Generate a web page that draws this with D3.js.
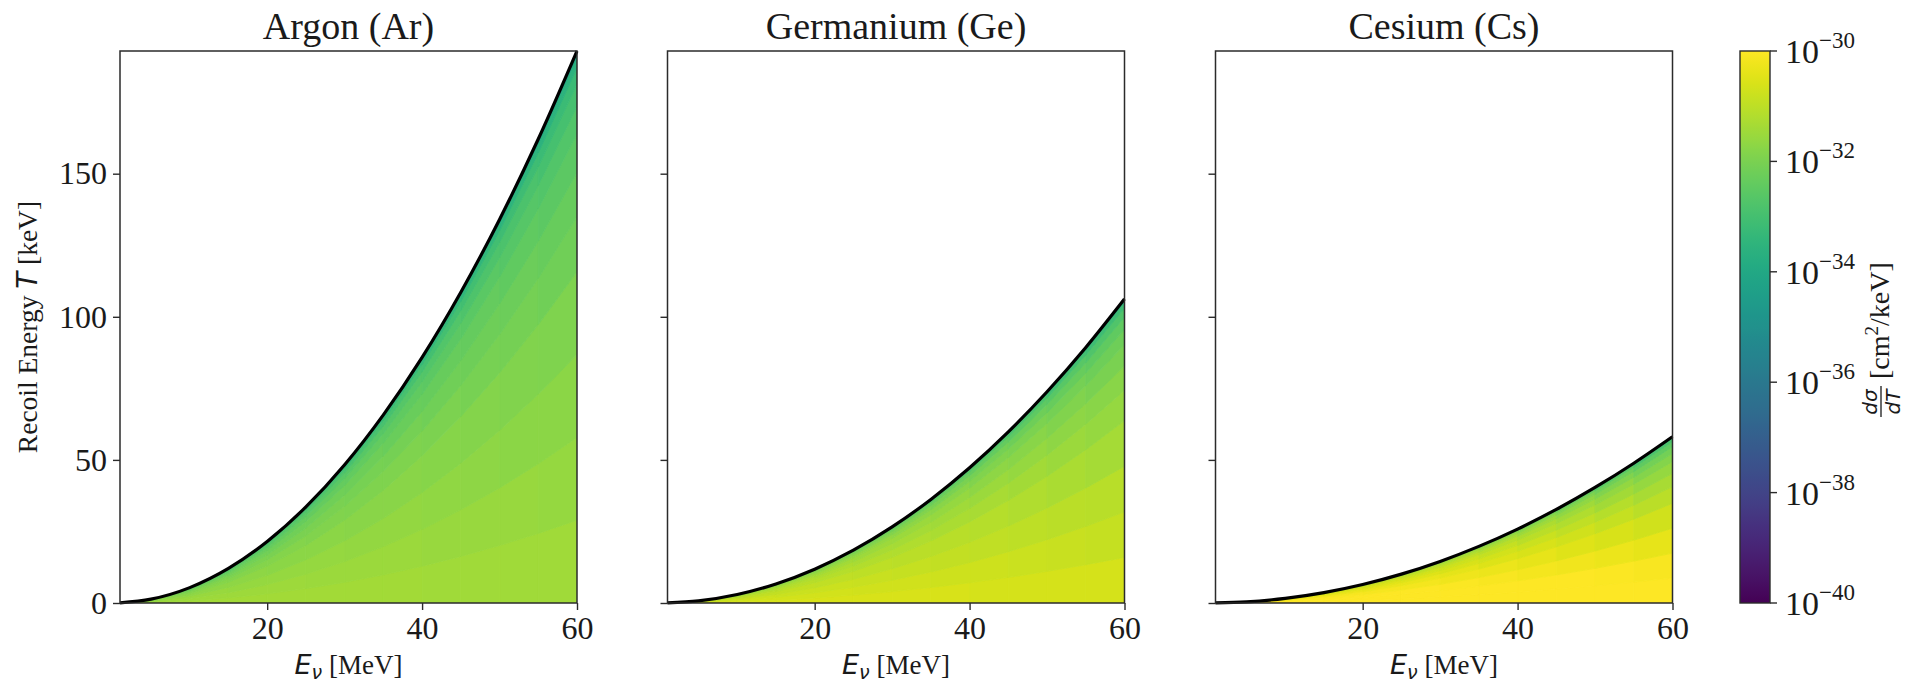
<!DOCTYPE html>
<html><head><meta charset="utf-8">
<script src="https://cdn.jsdelivr.net/npm/d3@7"></script>
<style>body{margin:0;background:#fff;} svg{display:block}</style>
</head><body><svg id="c" width="1931" height="689"></svg>
<script>
// ---------------- DATA ----------------
const panelTitles = ["Argon (Ar)", "Germanium (Ge)", "Cesium (Cs)"];
// kinematic boundary (max recoil energy, keV) read along E_nu (MeV)
const curveE = [1, 5, 10, 15, 20, 25, 30, 35, 40, 45, 50, 55, 60];
const tmaxAr = [0.05, 1.34, 5.37, 12.08, 21.48, 33.55, 48.29, 65.72, 85.81, 108.58, 134.01, 162.11, 192.87];
const tmaxGe = [0.03, 0.74, 2.96, 6.65, 11.82, 18.46, 26.58, 36.18, 47.24, 59.78, 73.80, 89.28, 106.23];
const tmaxCs = [0.02, 0.40, 1.62, 3.63, 6.46, 10.09, 14.53, 19.78, 25.83, 32.69, 40.36, 48.83, 58.10];
// heat-map cells: columns in E_nu (edges), rows as fraction of the boundary T/Tmax (edges)
const cellEdgesE = [1, 5, 10, 15, 20, 25, 30, 35, 40, 45, 50, 55, 60];
const cellEdgesF = [0, 0.15, 0.3, 0.45, 0.6, 0.7, 0.78, 0.85, 0.9, 0.94, 0.97, 0.99, 1.0];
// log10(dσ/dT [cm²/keV]) per column (rows bottom -> top)
const logAr = [
  [-31.38,-31.46,-31.55,-31.67,-31.81,-31.94,-32.08,-32.25,-32.45,-32.70,-33.05,-33.65],
  [-31.39,-31.46,-31.56,-31.68,-31.81,-31.94,-32.09,-32.26,-32.46,-32.71,-33.06,-33.66],
  [-31.39,-31.47,-31.56,-31.69,-31.82,-31.95,-32.10,-32.28,-32.47,-32.72,-33.07,-33.68],
  [-31.39,-31.47,-31.57,-31.70,-31.84,-31.97,-32.12,-32.30,-32.49,-32.74,-33.10,-33.70],
  [-31.39,-31.48,-31.58,-31.72,-31.86,-32.00,-32.15,-32.32,-32.52,-32.77,-33.13,-33.73],
  [-31.39,-31.49,-31.60,-31.74,-31.89,-32.03,-32.18,-32.36,-32.56,-32.81,-33.17,-33.77],
  [-31.40,-31.50,-31.62,-31.76,-31.92,-32.06,-32.22,-32.40,-32.60,-32.86,-33.22,-33.82],
  [-31.40,-31.51,-31.64,-31.79,-31.95,-32.10,-32.27,-32.45,-32.65,-32.91,-33.27,-33.88],
  [-31.41,-31.53,-31.66,-31.83,-31.99,-32.15,-32.32,-32.51,-32.71,-32.97,-33.33,-33.94],
  [-31.41,-31.54,-31.69,-31.86,-32.04,-32.20,-32.38,-32.57,-32.78,-33.04,-33.40,-34.01],
  [-31.42,-31.56,-31.72,-31.91,-32.09,-32.26,-32.44,-32.64,-32.85,-33.12,-33.48,-34.09],
  [-31.42,-31.58,-31.75,-31.95,-32.15,-32.33,-32.52,-32.72,-32.94,-33.20,-33.57,-34.18]
];
const logGe = [
  [-30.59,-30.67,-30.76,-30.88,-31.02,-31.15,-31.30,-31.47,-31.66,-31.91,-32.26,-32.86],
  [-30.60,-30.67,-30.77,-30.89,-31.03,-31.16,-31.31,-31.48,-31.67,-31.92,-32.27,-32.88],
  [-30.60,-30.68,-30.78,-30.90,-31.04,-31.18,-31.33,-31.50,-31.69,-31.95,-32.30,-32.90],
  [-30.60,-30.69,-30.79,-30.93,-31.07,-31.20,-31.36,-31.53,-31.73,-31.98,-32.34,-32.94],
  [-30.60,-30.70,-30.81,-30.95,-31.10,-31.24,-31.40,-31.58,-31.78,-32.03,-32.39,-32.99],
  [-30.61,-30.72,-30.84,-30.99,-31.15,-31.29,-31.46,-31.64,-31.84,-32.10,-32.45,-33.06],
  [-30.61,-30.73,-30.87,-31.03,-31.20,-31.35,-31.52,-31.71,-31.91,-32.17,-32.53,-33.14],
  [-30.62,-30.75,-30.90,-31.08,-31.26,-31.42,-31.59,-31.79,-32.00,-32.26,-32.62,-33.23],
  [-30.63,-30.78,-30.94,-31.13,-31.32,-31.50,-31.68,-31.88,-32.09,-32.36,-32.72,-33.33],
  [-30.64,-30.80,-30.99,-31.19,-31.40,-31.58,-31.78,-31.98,-32.20,-32.47,-32.84,-33.45],
  [-30.65,-30.83,-31.04,-31.26,-31.49,-31.68,-31.88,-32.10,-32.32,-32.60,-32.97,-33.58],
  [-30.66,-30.87,-31.09,-31.34,-31.58,-31.79,-32.00,-32.22,-32.46,-32.74,-33.11,-33.72]
];
const logCs = [
  [-29.75,-29.83,-29.93,-30.04,-30.18,-30.31,-30.46,-30.63,-30.82,-31.07,-31.42,-32.02],
  [-29.76,-29.84,-29.93,-30.05,-30.19,-30.32,-30.47,-30.64,-30.83,-31.09,-31.44,-32.04],
  [-29.76,-29.84,-29.94,-30.07,-30.21,-30.34,-30.50,-30.67,-30.87,-31.12,-31.47,-32.07],
  [-29.76,-29.85,-29.96,-30.10,-30.24,-30.38,-30.54,-30.72,-30.91,-31.17,-31.52,-32.13],
  [-29.77,-29.87,-29.99,-30.14,-30.29,-30.44,-30.60,-30.78,-30.98,-31.24,-31.59,-32.20],
  [-29.77,-29.89,-30.02,-30.18,-30.35,-30.50,-30.67,-30.86,-31.07,-31.33,-31.69,-32.29],
  [-29.78,-29.91,-30.06,-30.24,-30.42,-30.59,-30.77,-30.96,-31.18,-31.44,-31.80,-32.41],
  [-29.79,-29.94,-30.11,-30.31,-30.51,-30.69,-30.88,-31.09,-31.31,-31.58,-31.95,-32.56],
  [-29.80,-29.97,-30.17,-30.39,-30.62,-30.81,-31.02,-31.24,-31.47,-31.74,-32.12,-32.73],
  [-29.81,-30.01,-30.23,-30.49,-30.74,-30.96,-31.18,-31.41,-31.66,-31.94,-32.32,-32.94],
  [-29.83,-30.05,-30.31,-30.60,-30.88,-31.13,-31.37,-31.62,-31.88,-32.18,-32.56,-33.19],
  [-29.84,-30.10,-30.39,-30.73,-31.05,-31.32,-31.59,-31.87,-32.14,-32.45,-32.85,-33.47]
];
const xTicks = [20, 40, 60];
const yTicks = [0, 50, 100, 150];
const cbTicks = [-30, -32, -34, -36, -38, -40];
const cbDomain = [-40, -30];

// ---------------- LAYOUT ----------------
const svg = d3.select("#c");
const W = 457, TOP = 51, BOT = 603;
const lefts = [120, 667.5, 1215.5];
const serif = "'Liberation Serif','Times New Roman',serif";
const sans = "'DejaVu Sans',sans-serif";
const ink = "#1a1a1a", axisInk = "#2b2b2b";
const tickFont = 32;
const y = d3.scaleLinear().domain([0, d3.max(tmaxAr)]).range([BOT, TOP]);
const color = d3.scaleSequential(d3.interpolateViridis).domain(cbDomain).clamp(true);
const tmaxSets = [tmaxAr, tmaxGe, tmaxCs];
const logSets = [logAr, logGe, logCs];

panelTitles.forEach((title, p) => {
  const L = lefts[p];
  const x = d3.scaleLinear().domain([1, 60]).range([L, L + W]);
  const tm = tmaxSets[p];
  const g = svg.append("g");
  const pts = curveE.map((e, i) => [e, tm[i]]);

  const clipId = "clip" + p;
  g.append("clipPath").attr("id", clipId).append("path")
    .attr("d", d3.area().x(d => x(d[0])).y0(y(0)).y1(d => y(d[1])).curve(d3.curveMonotoneX)(pts));

  const hm = g.append("g").attr("clip-path", `url(#${clipId})`);
  const vals = logSets[p];
  for (let i = 0; i < cellEdgesE.length - 1; i++) {
    const nodes = pts.filter(d => d[0] >= cellEdgesE[i] && d[0] <= cellEdgesE[i + 1]);
    for (let j = 0; j < cellEdgesF.length - 1; j++) {
      const f0 = cellEdgesF[j], f1 = cellEdgesF[j + 1];
      const top = j === cellEdgesF.length - 2 ? 1.02 : f1; // last row reaches past boundary; clipped
      const poly = nodes.map(d => [x(d[0]), y(f0 * d[1])])
        .concat(nodes.slice().reverse().map(d => [x(d[0]), y(top * d[1]) - (j === cellEdgesF.length - 2 ? 2 : 0)]));
      const c = color(vals[i][j]);
      hm.append("polygon").attr("points", poly.map(q => q.join(",")).join(" "))
        .attr("fill", c).attr("stroke", c).attr("stroke-width", 0.9);
    }
  }
  g.append("path").attr("d", d3.line().x(d => x(d[0])).y(d => y(d[1])).curve(d3.curveMonotoneX)(pts))
    .attr("fill", "none").attr("stroke", "#000").attr("stroke-width", 3.2);

  g.append("rect").attr("x", L).attr("y", TOP).attr("width", W).attr("height", BOT - TOP)
    .attr("fill", "none").attr("stroke", axisInk).attr("stroke-width", 1.5);

  const xa = g.append("g").attr("transform", `translate(0,${BOT})`)
    .call(d3.axisBottom(x).tickValues(xTicks).tickSize(7).tickPadding(6).tickFormat(d3.format("d")));
  xa.select(".domain").remove();
  xa.selectAll("line").attr("stroke", axisInk).attr("stroke-width", 1.4);
  xa.selectAll("text").attr("font-family", serif).attr("font-size", tickFont).attr("fill", ink);

  const ya = g.append("g").attr("transform", `translate(${L},0)`)
    .call(d3.axisLeft(y).tickValues(yTicks).tickSize(7).tickPadding(6).tickFormat(p === 0 ? d3.format("d") : () => ""));
  ya.select(".domain").remove();
  ya.selectAll("line").attr("stroke", axisInk).attr("stroke-width", 1.4);
  ya.selectAll("text").attr("font-family", serif).attr("font-size", tickFont).attr("fill", ink);

  g.append("text").attr("x", L + W / 2).attr("y", 39).attr("text-anchor", "middle")
    .attr("font-family", serif).attr("font-size", 38).attr("fill", ink).text(title);

  const xl = g.append("text").attr("x", L + W / 2).attr("y", 674).attr("text-anchor", "middle")
    .attr("font-size", 27).attr("fill", ink);
  xl.append("tspan").attr("font-family", sans).attr("font-style", "italic").text("E");
  xl.append("tspan").attr("font-family", sans).attr("font-style", "italic").attr("font-size", 19).attr("dy", 5).text("ν");
  xl.append("tspan").attr("font-family", serif).attr("dy", -5).text(" [MeV]");
});

const yl = svg.append("text").attr("transform", `translate(37,${(TOP + BOT) / 2}) rotate(-90)`)
  .attr("text-anchor", "middle").attr("font-size", 27.5).attr("fill", ink);
yl.append("tspan").attr("font-family", serif).text("Recoil Energy ");
yl.append("tspan").attr("font-family", sans).attr("font-style", "italic").text("T");
yl.append("tspan").attr("font-family", serif).text(" [keV]");

// ---------------- COLORBAR ----------------
const CBX = 1740, CBW = 30;
const cy = d3.scaleLinear().domain(cbDomain).range([BOT, TOP]);
const grad = svg.append("defs").append("linearGradient").attr("id", "cbg")
  .attr("x1", 0).attr("y1", 1).attr("x2", 0).attr("y2", 0);
d3.range(0, 1.0001, 0.02).forEach(t => {
  grad.append("stop").attr("offset", t).attr("stop-color", color(cbDomain[0] + t * (cbDomain[1] - cbDomain[0])));
});
svg.append("rect").attr("x", CBX).attr("y", TOP).attr("width", CBW).attr("height", BOT - TOP)
  .attr("fill", "url(#cbg)").attr("stroke", axisInk).attr("stroke-width", 1.4);
const cbg = svg.append("g");
cbTicks.forEach(v => {
  const ty = cy(v);
  cbg.append("line").attr("x1", CBX + CBW).attr("x2", CBX + CBW + 7).attr("y1", ty).attr("y2", ty)
    .attr("stroke", axisInk).attr("stroke-width", 1.4);
  const t = cbg.append("text").attr("x", CBX + CBW + 15).attr("y", ty + 12)
    .attr("font-family", serif).attr("font-size", 34).attr("fill", ink);
  t.append("tspan").text("10");
  t.append("tspan").attr("font-size", 23).attr("dy", -15).text("\u2212" + Math.abs(v));
});
const lab = svg.append("g").attr("transform", `translate(1889,${(TOP + BOT) / 2 + 4}) rotate(-90)`);
const x0 = -86;
lab.append("text").attr("x", x0 + 15).attr("y", -12).attr("text-anchor", "middle")
  .attr("font-family", sans).attr("font-style", "italic").attr("font-size", 20).attr("fill", ink).text("dσ");
lab.append("line").attr("x1", x0).attr("x2", x0 + 31).attr("y1", -8).attr("y2", -8).attr("stroke", ink).attr("stroke-width", 1.3);
lab.append("text").attr("x", x0 + 15).attr("y", 11).attr("text-anchor", "middle")
  .attr("font-family", sans).attr("font-style", "italic").attr("font-size", 20).attr("fill", ink).text("dT");
const lt = lab.append("text").attr("x", x0 + 38).attr("y", 0).attr("font-family", serif).attr("font-size", 28).attr("fill", ink);
lt.append("tspan").text("[cm");
lt.append("tspan").attr("font-size", 19).attr("dy", -11).text("2");
lt.append("tspan").attr("dy", 11).text("/keV]");
</script></body></html>
